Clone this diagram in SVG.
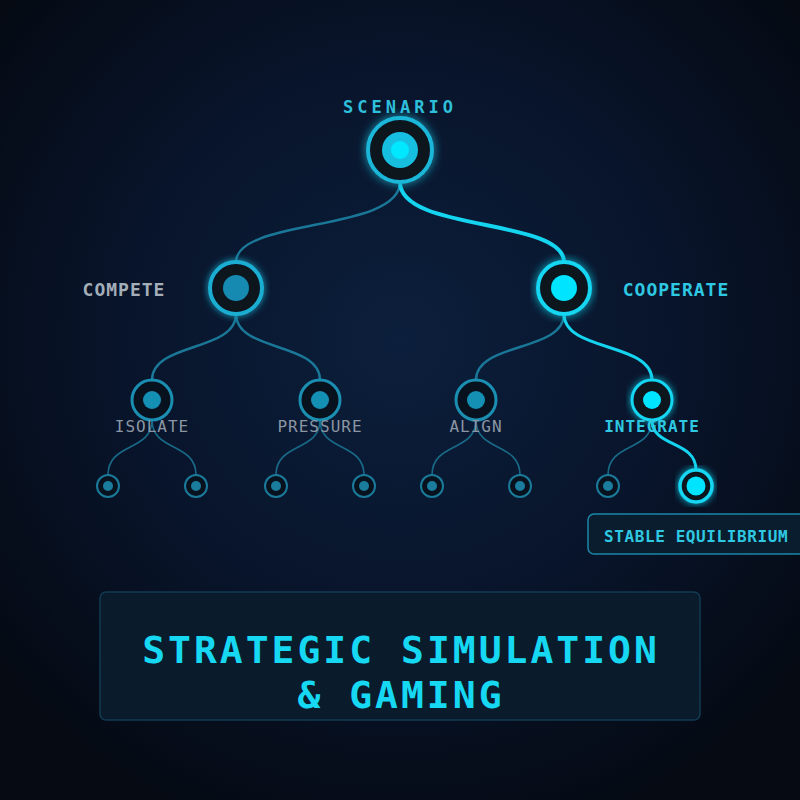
<svg xmlns="http://www.w3.org/2000/svg" width="800" height="800" viewBox="0 0 800 800">
<defs>
<radialGradient id="bg" cx="400" cy="340" r="520" gradientUnits="userSpaceOnUse">
<stop offset="0" stop-color="#0c1f3c"/>
<stop offset="0.55" stop-color="#08142a"/>
<stop offset="1" stop-color="#050a13"/>
</radialGradient>
<filter id="glow" x="-15%" y="-15%" width="130%" height="130%">
<feGaussianBlur in="SourceGraphic" stdDeviation="5" result="b"/>
<feMerge><feMergeNode in="b"/><feMergeNode in="SourceGraphic"/></feMerge>
</filter>
<filter id="glowS" x="-15%" y="-15%" width="130%" height="130%">
<feGaussianBlur in="SourceGraphic" stdDeviation="3.5" result="b"/>
<feMerge><feMergeNode in="b"/><feMergeNode in="SourceGraphic"/></feMerge>
</filter>
</defs>
<style>
.mono{font-family:"DejaVu Sans Mono","Liberation Mono",monospace;}
.dim{fill:none;stroke:#1a7797;stroke-width:2.4;stroke-linecap:round;}
.dim2{fill:none;stroke:#186a88;stroke-width:1.6;stroke-linecap:round;}
.hot{fill:none;stroke:#14d4f0;stroke-linecap:round;}
.ring{fill:#08121f;}
.lblg{fill:#8a96a3;font-size:16px;letter-spacing:1px;}
</style>
<rect width="800" height="800" fill="url(#bg)"/>

<g id="connectors">
<path class="dim" d="M400 182 C400 232 236 218 236 262"/>
<path class="hot" stroke-width="4" d="M400 182 C400 232 564 218 564 262"/>
<path class="dim" d="M236 314 C236 352 152 342 152 380"/>
<path class="dim" d="M236 314 C236 352 320 342 320 380"/>
<path class="dim" d="M564 314 C564 352 476 342 476 380"/>
<path class="hot" stroke-width="3" d="M564 314 C564 352 652 342 652 380"/>
<path class="dim2" d="M152 420 C152 452 108 442 108 475"/>
<path class="dim2" d="M152 420 C152 452 196 442 196 475"/>
<path class="dim2" d="M320 420 C320 452 276 442 276 475"/>
<path class="dim2" d="M320 420 C320 452 364 442 364 475"/>
<path class="dim2" d="M476 420 C476 452 432 442 432 475"/>
<path class="dim2" d="M476 420 C476 452 520 442 520 475"/>
<path class="dim2" d="M652 420 C652 452 608 442 608 475"/>
<path class="hot" stroke-width="3" d="M652 420 C652 448 696 440 696 470"/>
</g>

<g id="node-scenario">
<g filter="url(#glow)">
<circle class="ring" cx="400" cy="150" r="32" stroke="#1ab6d8" stroke-width="4"/>
<circle cx="400" cy="150" r="18" fill="#17bfe0"/>
<circle cx="400" cy="150" r="9" fill="#00e8ff"/>
</g>
<text class="mono" x="400" y="113" text-anchor="middle" font-size="17" font-weight="bold" letter-spacing="4" fill="#2ebfdb">SCENARIO</text>
</g>

<g id="node-compete">
<g filter="url(#glowS)">
<circle class="ring" cx="236" cy="288" r="26" stroke="#1aaed2" stroke-width="4"/>
<circle cx="236" cy="288" r="13" fill="#148ab0"/>
</g>
<text class="mono" x="124" y="296" text-anchor="middle" font-size="18" font-weight="bold" letter-spacing="1" fill="#a4aeb9">COMPETE</text>
</g>

<g id="node-cooperate">
<g filter="url(#glow)">
<circle class="ring" cx="564" cy="288" r="26" stroke="#12d6f2" stroke-width="4"/>
<circle cx="564" cy="288" r="13" fill="#00e4ff"/>
</g>
<text class="mono" x="676" y="296" text-anchor="middle" font-size="18" font-weight="bold" letter-spacing="1" fill="#2fc8e2">COOPERATE</text>
</g>

<g id="node-isolate">
<circle class="ring" cx="152" cy="400" r="20" stroke="#1b8fb2" stroke-width="3"/>
<circle cx="152" cy="400" r="9" fill="#1590b5"/>
<text class="mono lblg" x="152" y="432" text-anchor="middle">ISOLATE</text>
</g>
<g id="node-pressure">
<circle class="ring" cx="320" cy="400" r="20" stroke="#1b8fb2" stroke-width="3"/>
<circle cx="320" cy="400" r="9" fill="#1590b5"/>
<text class="mono lblg" x="320" y="432" text-anchor="middle">PRESSURE</text>
</g>
<g id="node-align">
<circle class="ring" cx="476" cy="400" r="20" stroke="#1b8fb2" stroke-width="3"/>
<circle cx="476" cy="400" r="9" fill="#1590b5"/>
<text class="mono lblg" x="476" y="432" text-anchor="middle">ALIGN</text>
</g>
<g id="node-integrate">
<g filter="url(#glowS)">
<circle class="ring" cx="652" cy="400" r="20" stroke="#12d6f2" stroke-width="3"/>
<circle cx="652" cy="400" r="9" fill="#00e4ff"/>
</g>
<text class="mono" x="652" y="432" text-anchor="middle" font-size="16" font-weight="bold" letter-spacing="1" fill="#2fc8e2">INTEGRATE</text>
</g>

<g id="leaves">
<g id="leaf-1"><circle class="ring" cx="108" cy="486" r="11" stroke="#1a7a9a" stroke-width="2"/><circle cx="108" cy="486" r="5" fill="#1a7d9d"/></g>
<g id="leaf-2"><circle class="ring" cx="196" cy="486" r="11" stroke="#1a7a9a" stroke-width="2"/><circle cx="196" cy="486" r="5" fill="#1a7d9d"/></g>
<g id="leaf-3"><circle class="ring" cx="276" cy="486" r="11" stroke="#1a7a9a" stroke-width="2"/><circle cx="276" cy="486" r="5" fill="#1a7d9d"/></g>
<g id="leaf-4"><circle class="ring" cx="364" cy="486" r="11" stroke="#1a7a9a" stroke-width="2"/><circle cx="364" cy="486" r="5" fill="#1a7d9d"/></g>
<g id="leaf-5"><circle class="ring" cx="432" cy="486" r="11" stroke="#1a7a9a" stroke-width="2"/><circle cx="432" cy="486" r="5" fill="#1a7d9d"/></g>
<g id="leaf-6"><circle class="ring" cx="520" cy="486" r="11" stroke="#1a7a9a" stroke-width="2"/><circle cx="520" cy="486" r="5" fill="#1a7d9d"/></g>
<g id="leaf-7"><circle class="ring" cx="608" cy="486" r="11" stroke="#1a7a9a" stroke-width="2"/><circle cx="608" cy="486" r="5" fill="#1a7d9d"/></g>
<g id="leaf-8" filter="url(#glowS)"><circle class="ring" cx="696" cy="486" r="16" stroke="#12d6f2" stroke-width="3.5"/><circle cx="696" cy="486" r="9.5" fill="#00e4ff"/></g>
</g>

<g id="node-stable">
<rect x="588" y="514" width="226" height="40" rx="6" fill="#0a1d2e" stroke="#1a86a8" stroke-width="1.5"/>
<text class="mono" x="604" y="542" font-size="16" font-weight="bold" letter-spacing="0.6" fill="#2fc8e2">STABLE EQUILIBRIUM</text>
</g>

<g id="title">
<rect x="100" y="592" width="600" height="128" rx="6" fill="#0a1c2b" stroke="#123a52" stroke-width="1.5"/>
<text class="mono" x="401" y="663" text-anchor="middle" font-size="38" font-weight="bold" letter-spacing="3" fill="#16d8f2">STRATEGIC SIMULATION</text>
<text class="mono" x="401" y="708" text-anchor="middle" font-size="38" font-weight="bold" letter-spacing="3" fill="#16d8f2">&amp; GAMING</text>
</g>
</svg>
